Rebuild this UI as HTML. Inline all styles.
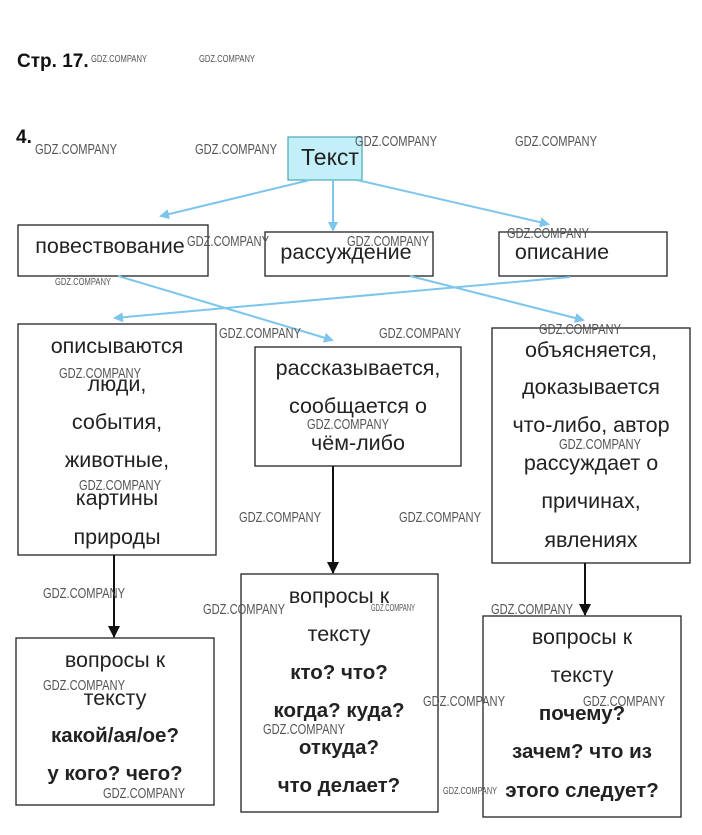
<!DOCTYPE html>
<html><head><meta charset="utf-8"><style>
html,body{margin:0;padding:0;background:#fff;}
svg{display:block;}
.t{font-family:"Liberation Sans",sans-serif;font-size:21.5px;fill:#222;text-anchor:middle;}
.b{font-weight:bold;font-size:20.5px;}
.w{font-family:"Liberation Sans",sans-serif;font-size:15px;fill:#555;}
.ws{font-family:"Liberation Sans",sans-serif;font-size:10px;fill:#555;}
.box{fill:#fff;stroke:#222;stroke-width:1.3;}
.bl{stroke:#7cc5ec;stroke-width:2;fill:none;}
.bk{stroke:#111;stroke-width:2;fill:none;}
</style></head><body>
<svg width="702" height="835" viewBox="0 0 702 835" xmlns="http://www.w3.org/2000/svg">
<defs>
<marker id="ab" markerWidth="10" markerHeight="10" refX="8" refY="5" orient="auto" markerUnits="userSpaceOnUse"><path d="M0,0 L10,5 L0,10 z" fill="#7cc5ec"/></marker>
<marker id="ak" markerWidth="12" markerHeight="12" refX="11" refY="6" orient="auto" markerUnits="userSpaceOnUse"><path d="M0,0 L12,6 L0,12 z" fill="#111"/></marker>
</defs>
<text x="17" y="67" font-family="Liberation Sans,sans-serif" font-weight="bold" font-size="19" fill="#111">Стр. 17.</text>
<text x="16" y="143" font-family="Liberation Sans,sans-serif" font-weight="bold" font-size="19" fill="#111">4.</text>

<rect x="288" y="137" width="74" height="43" fill="#c3f0f8" stroke="#4aa8b8" stroke-width="1.2"/>
<text class="t" x="330" y="165" style="font-size:23px">Текст</text>
<rect class="box" x="18" y="225" width="190" height="51"/>
<text class="t" x="110" y="253">повествование</text>
<rect class="box" x="265" y="232" width="168" height="44"/>
<text class="t" x="346" y="259">рассуждение</text>
<rect class="box" x="499" y="232" width="168" height="44"/>
<text class="t" x="562" y="259">описание</text>

<rect class="box" x="18" y="324" width="198" height="231"/>
<text class="t" x="117" y="353">описываются</text><text class="t" x="117" y="391">люди,</text><text class="t" x="117" y="429">события,</text><text class="t" x="117" y="467">животные,</text><text class="t" x="117" y="505">картины</text><text class="t" x="117" y="544">природы</text>
<rect class="box" x="255" y="347" width="206" height="119"/>
<text class="t" x="358" y="375">рассказывается,</text><text class="t" x="358" y="413">сообщается о</text><text class="t" x="358" y="450">чём-либо</text>
<rect class="box" x="492" y="328" width="198" height="235"/>
<text class="t" x="591" y="357">объясняется,</text><text class="t" x="591" y="394">доказывается</text><text class="t" x="591" y="432">что-либо, автор</text><text class="t" x="591" y="470">рассуждает о</text><text class="t" x="591" y="508">причинах,</text><text class="t" x="591" y="547">явлениях</text>

<rect class="box" x="16" y="638" width="198" height="167"/>
<text class="t" x="115" y="667">вопросы к</text><text class="t" x="115" y="705">тексту</text><text class="t b" x="115" y="742">какой/ая/ое?</text><text class="t b" x="115" y="780">у кого? чего?</text>
<rect class="box" x="241" y="574" width="197" height="238"/>
<text class="t" x="339" y="603">вопросы к</text><text class="t" x="339" y="641">тексту</text><text class="t b" x="339" y="679">кто? что?</text><text class="t b" x="339" y="717">когда? куда?</text><text class="t b" x="339" y="754">откуда?</text><text class="t b" x="339" y="792">что делает?</text>
<rect class="box" x="483" y="616" width="198" height="201"/>
<text class="t" x="582" y="644">вопросы к</text><text class="t" x="582" y="682">тексту</text><text class="t b" x="582" y="720">почему?</text><text class="t b" x="582" y="758">зачем? что из</text><text class="t b" x="582" y="797">этого следует?</text>

<line class="bl" x1="310" y1="180" x2="161" y2="216" marker-end="url(#ab)"/>
<line class="bl" x1="333" y1="180" x2="333" y2="230" marker-end="url(#ab)"/>
<line class="bl" x1="357" y1="180" x2="548" y2="224" marker-end="url(#ab)"/>
<line class="bl" x1="118" y1="276" x2="332" y2="340" marker-end="url(#ab)"/>
<line class="bl" x1="570" y1="277" x2="115" y2="318" marker-end="url(#ab)"/>
<line class="bl" x1="410" y1="276" x2="583" y2="320" marker-end="url(#ab)"/>
<line class="bk" x1="114" y1="555" x2="114" y2="637" marker-end="url(#ak)"/>
<line class="bk" x1="333" y1="466" x2="333" y2="573" marker-end="url(#ak)"/>
<line class="bk" x1="585" y1="563" x2="585" y2="615" marker-end="url(#ak)"/>

<g class="w">
<text x="91" y="62" class="ws" textLength="56" lengthAdjust="spacingAndGlyphs">GDZ.COMPANY</text>
<text x="199" y="62" class="ws" textLength="56" lengthAdjust="spacingAndGlyphs">GDZ.COMPANY</text>
<text x="35" y="154" textLength="82" lengthAdjust="spacingAndGlyphs">GDZ.COMPANY</text>
<text x="195" y="154" textLength="82" lengthAdjust="spacingAndGlyphs">GDZ.COMPANY</text>
<text x="355" y="146" textLength="82" lengthAdjust="spacingAndGlyphs">GDZ.COMPANY</text>
<text x="515" y="146" textLength="82" lengthAdjust="spacingAndGlyphs">GDZ.COMPANY</text>
<text x="187" y="246" textLength="82" lengthAdjust="spacingAndGlyphs">GDZ.COMPANY</text>
<text x="347" y="246" textLength="82" lengthAdjust="spacingAndGlyphs">GDZ.COMPANY</text>
<text x="507" y="238" textLength="82" lengthAdjust="spacingAndGlyphs">GDZ.COMPANY</text>
<text x="55" y="285" class="ws" textLength="56" lengthAdjust="spacingAndGlyphs">GDZ.COMPANY</text>
<text x="219" y="338" textLength="82" lengthAdjust="spacingAndGlyphs">GDZ.COMPANY</text>
<text x="379" y="338" textLength="82" lengthAdjust="spacingAndGlyphs">GDZ.COMPANY</text>
<text x="539" y="334" textLength="82" lengthAdjust="spacingAndGlyphs">GDZ.COMPANY</text>
<text x="59" y="378" textLength="82" lengthAdjust="spacingAndGlyphs">GDZ.COMPANY</text>
<text x="307" y="429" textLength="82" lengthAdjust="spacingAndGlyphs">GDZ.COMPANY</text>
<text x="559" y="449" textLength="82" lengthAdjust="spacingAndGlyphs">GDZ.COMPANY</text>
<text x="79" y="490" textLength="82" lengthAdjust="spacingAndGlyphs">GDZ.COMPANY</text>
<text x="239" y="522" textLength="82" lengthAdjust="spacingAndGlyphs">GDZ.COMPANY</text>
<text x="399" y="522" textLength="82" lengthAdjust="spacingAndGlyphs">GDZ.COMPANY</text>
<text x="43" y="598" textLength="82" lengthAdjust="spacingAndGlyphs">GDZ.COMPANY</text>
<text x="203" y="614" textLength="82" lengthAdjust="spacingAndGlyphs">GDZ.COMPANY</text>
<text x="371" y="611" class="ws" textLength="44" lengthAdjust="spacingAndGlyphs">GDZ.COMPANY</text>
<text x="491" y="614" textLength="82" lengthAdjust="spacingAndGlyphs">GDZ.COMPANY</text>
<text x="43" y="690" textLength="82" lengthAdjust="spacingAndGlyphs">GDZ.COMPANY</text>
<text x="423" y="706" textLength="82" lengthAdjust="spacingAndGlyphs">GDZ.COMPANY</text>
<text x="583" y="706" textLength="82" lengthAdjust="spacingAndGlyphs">GDZ.COMPANY</text>
<text x="263" y="734" textLength="82" lengthAdjust="spacingAndGlyphs">GDZ.COMPANY</text>
<text x="103" y="798" textLength="82" lengthAdjust="spacingAndGlyphs">GDZ.COMPANY</text>
<text x="443" y="794" class="ws" textLength="54" lengthAdjust="spacingAndGlyphs">GDZ.COMPANY</text>
</g>
</svg>
</body></html>
